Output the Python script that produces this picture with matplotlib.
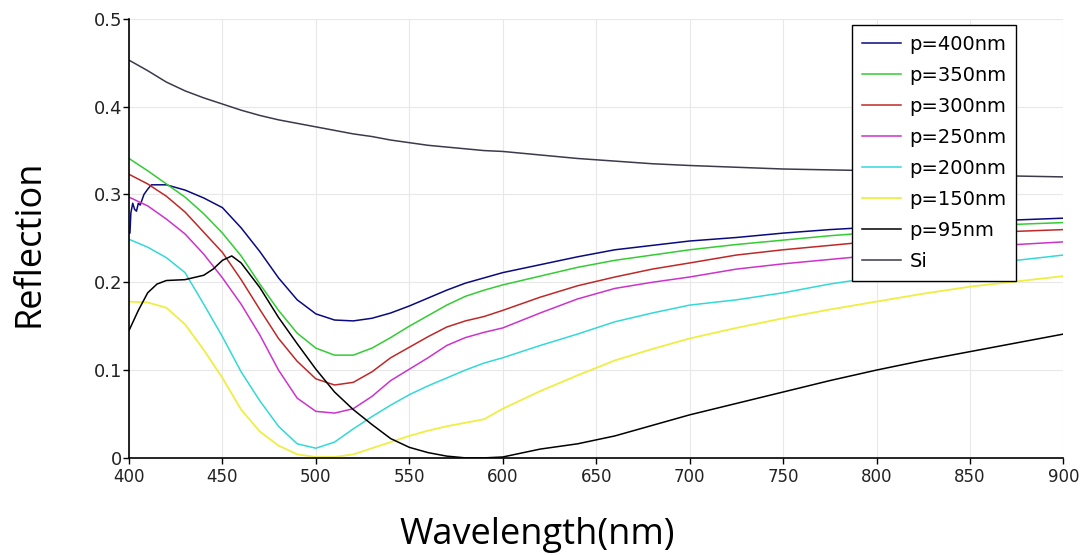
import matplotlib.pyplot as plt

# wavelength grid (nm) shared by most curves
wl = [400, 410, 420, 430, 440, 450, 460, 470, 480, 490, 500, 510, 520, 530,
      540, 550, 560, 570, 580, 590, 600, 620, 640, 660, 680, 700, 725, 750,
      775, 800, 825, 850, 875, 900]

p350 = [0.341, 0.327, 0.312, 0.297, 0.278, 0.256, 0.230, 0.198, 0.168, 0.142,
        0.125, 0.117, 0.117, 0.125, 0.137, 0.150, 0.162, 0.174, 0.184, 0.191,
        0.197, 0.207, 0.217, 0.225, 0.231, 0.237, 0.243, 0.248, 0.253, 0.257,
        0.261, 0.264, 0.266, 0.268]
p300 = [0.323, 0.312, 0.298, 0.280, 0.257, 0.234, 0.203, 0.169, 0.136, 0.110,
        0.090, 0.083, 0.086, 0.098, 0.114, 0.126, 0.138, 0.149, 0.156, 0.161,
        0.168, 0.183, 0.196, 0.206, 0.215, 0.222, 0.231, 0.237, 0.242, 0.247,
        0.251, 0.255, 0.258, 0.260]
p250 = [0.297, 0.287, 0.272, 0.255, 0.232, 0.205, 0.175, 0.140, 0.100, 0.068,
        0.053, 0.051, 0.056, 0.070, 0.088, 0.101, 0.114, 0.128, 0.137, 0.143,
        0.148, 0.165, 0.181, 0.193, 0.200, 0.206, 0.215, 0.221, 0.226, 0.231,
        0.236, 0.240, 0.243, 0.246]
p200 = [0.249, 0.240, 0.228, 0.211, 0.175, 0.138, 0.098, 0.065, 0.036, 0.016,
        0.011, 0.018, 0.033, 0.047, 0.060, 0.072, 0.082, 0.091, 0.100, 0.108,
        0.114, 0.128, 0.141, 0.155, 0.165, 0.174, 0.180, 0.188, 0.198, 0.206,
        0.212, 0.218, 0.225, 0.231]
p150 = [0.178, 0.177, 0.171, 0.152, 0.123, 0.091, 0.055, 0.030, 0.014, 0.004,
        0.001, 0.001, 0.004, 0.011, 0.018, 0.025, 0.031, 0.036, 0.040, 0.044,
        0.056, 0.076, 0.094, 0.111, 0.124, 0.136, 0.148, 0.159, 0.169, 0.178,
        0.187, 0.195, 0.201, 0.207]
si = [0.453, 0.441, 0.428, 0.418, 0.410, 0.403, 0.396, 0.390, 0.385, 0.381,
      0.377, 0.373, 0.369, 0.366, 0.362, 0.359, 0.356, 0.354, 0.352, 0.350,
      0.349, 0.345, 0.341, 0.338, 0.335, 0.333, 0.331, 0.329, 0.328, 0.327,
      0.325, 0.323, 0.321, 0.320]

# p=400nm has a noisy start
wl_400 = [400, 400.5, 401, 402, 403, 404, 405, 406, 408, 410, 412, 420, 430,
          440, 450, 460, 470, 480, 490, 500, 510, 520, 530, 540, 550, 560, 570,
          580, 590, 600, 620, 640, 660, 680, 700, 725, 750, 775, 800, 825, 850,
          875, 900]
p400 = [0.256, 0.256, 0.279, 0.290, 0.283, 0.281, 0.290, 0.288, 0.300, 0.306,
        0.311, 0.311, 0.305, 0.296, 0.285, 0.262, 0.235, 0.205, 0.180, 0.164,
        0.157, 0.156, 0.159, 0.165, 0.173, 0.182, 0.191, 0.199, 0.205, 0.211,
        0.220, 0.229, 0.237, 0.242, 0.247, 0.251, 0.256, 0.260, 0.263, 0.266,
        0.268, 0.271, 0.273]

wl_95 = [400, 405, 410, 415, 420, 430, 440, 445, 450, 455, 460, 470, 480, 490,
         500, 510, 520, 530, 540, 550, 560, 570, 580, 590, 600, 620, 640, 660,
         680, 700, 725, 750, 775, 800, 825, 850, 875, 900]
p95 = [0.145, 0.168, 0.188, 0.198, 0.202, 0.203, 0.208, 0.215, 0.225, 0.230,
       0.222, 0.194, 0.160, 0.130, 0.101, 0.075, 0.055, 0.038, 0.022, 0.012,
       0.006, 0.002, 0.000, 0.000, 0.001, 0.010, 0.016, 0.025, 0.037, 0.049,
       0.062, 0.075, 0.088, 0.100, 0.111, 0.121, 0.131, 0.141]

xticks = [400, 450, 500, 550, 600, 650, 700, 750, 800, 850, 900]
yticks = [0, 0.1, 0.2, 0.3, 0.4, 0.5]
ytick_labels = ['0', '0.1', '0.2', '0.3', '0.4', '0.5']

fig = plt.figure(figsize=(10.84, 5.55), dpi=100)
ax = fig.add_axes([0.119, 0.175, 0.862, 0.791])

ax.plot(wl_400, p400, color='#0a0a80', lw=1.1, label='p=400nm')
ax.plot(wl, p350, color='#33cc33', lw=1.1, label='p=350nm')
ax.plot(wl, p300, color='#c02828', lw=1.1, label='p=300nm')
ax.plot(wl, p250, color='#cc33cc', lw=1.1, label='p=250nm')
ax.plot(wl, p200, color='#33d8d8', lw=1.1, label='p=200nm')
ax.plot(wl, p150, color='#eeee44', lw=1.3, label='p=150nm')
ax.plot(wl_95, p95, color='#000000', lw=1.1, label='p=95nm')
ax.plot(wl, si, color='#3a3a4a', lw=1.1, label='Si')

ax.set_xlim(400, 900)
ax.set_ylim(0, 0.5)
ax.set_xticks(xticks)
ax.set_yticks(yticks)
ax.set_yticklabels(ytick_labels)
for lab in ax.get_xticklabels():
    lab.set_fontsize(12)
    lab.set_color('#222222')
for lab in ax.get_yticklabels():
    lab.set_fontsize(13)
    lab.set_color('#222222')
ax.tick_params(direction='out', length=4, width=1)
ax.tick_params(axis='x', pad=3)
ax.tick_params(axis='y', pad=1)
ax.grid(True, color='#e8e8e8', lw=0.8)
ax.set_axisbelow(True)
for s in ['top', 'right']:
    ax.spines[s].set_visible(False)
for s in ['left', 'bottom']:
    ax.spines[s].set_linewidth(1.2)

fig.text(0.4954, 0.036, 'Wavelength(nm)', fontsize=26, family='Open Sans',
         ha='center', va='center')
fig.text(0.027, 0.562, 'Reflection', fontsize=26, family='Open Sans',
         rotation=90, ha='center', va='center')

leg = ax.legend(loc='upper right', bbox_to_anchor=(0.9497, 0.986), fontsize=14,
                frameon=True, fancybox=False, edgecolor='black',
                framealpha=1, handlelength=2.0, labelspacing=0.62,
                borderpad=0.5, handletextpad=0.45, borderaxespad=0)
leg.get_frame().set_linewidth(1.0)

plt.savefig('out.png', dpi=100)
